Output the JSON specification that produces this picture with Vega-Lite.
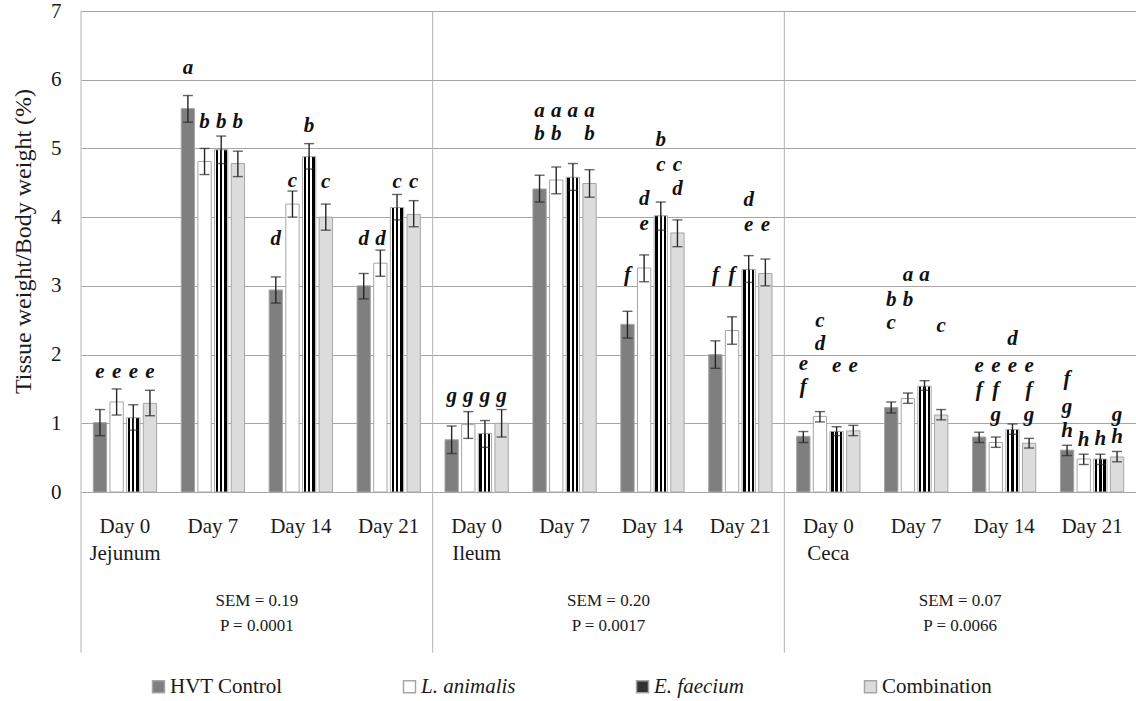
{
  "$schema": "https://vega.github.io/schema/vega-lite/v6.json",
  "width": 1055,
  "height": 481,
  "autosize": {"type": "none"},
  "padding": {"left": 81, "top": 11, "right": 0, "bottom": 209},
  "background": "white",
  "config": {
    "view": {"stroke": null},
    "font": "Liberation Serif, Times New Roman, serif",
    "axis": {"labelFont": "Liberation Serif, Times New Roman, serif", "titleFont": "Liberation Serif, Times New Roman, serif"},
    "legend": {"labelFont": "Liberation Serif, Times New Roman, serif", "padding": 0},
    "text": {"font": "Liberation Serif, Times New Roman, serif"}
  },
  "datasets": {
    "bars": [
      {"g": "Jejunum|Day 0", "trt": "HVT Control", "mean": 1.01, "lo": 0.82, "hi": 1.20},
      {"g": "Jejunum|Day 0", "trt": "L. animalis", "mean": 1.31, "lo": 1.12, "hi": 1.50},
      {"g": "Jejunum|Day 0", "trt": "E. faecium", "mean": 1.08, "lo": 0.90, "hi": 1.27},
      {"g": "Jejunum|Day 0", "trt": "Combination", "mean": 1.29, "lo": 1.11, "hi": 1.48},
      {"g": "Jejunum|Day 7", "trt": "HVT Control", "mean": 5.58, "lo": 5.38, "hi": 5.77},
      {"g": "Jejunum|Day 7", "trt": "L. animalis", "mean": 4.81, "lo": 4.62, "hi": 5.00},
      {"g": "Jejunum|Day 7", "trt": "E. faecium", "mean": 4.98, "lo": 4.78, "hi": 5.18},
      {"g": "Jejunum|Day 7", "trt": "Combination", "mean": 4.78, "lo": 4.59, "hi": 4.96},
      {"g": "Jejunum|Day 14", "trt": "HVT Control", "mean": 2.94, "lo": 2.75, "hi": 3.13},
      {"g": "Jejunum|Day 14", "trt": "L. animalis", "mean": 4.19, "lo": 4.00, "hi": 4.38},
      {"g": "Jejunum|Day 14", "trt": "E. faecium", "mean": 4.88, "lo": 4.70, "hi": 5.07},
      {"g": "Jejunum|Day 14", "trt": "Combination", "mean": 4.00, "lo": 3.81, "hi": 4.19},
      {"g": "Jejunum|Day 21", "trt": "HVT Control", "mean": 3.00, "lo": 2.81, "hi": 3.18},
      {"g": "Jejunum|Day 21", "trt": "L. animalis", "mean": 3.33, "lo": 3.14, "hi": 3.52},
      {"g": "Jejunum|Day 21", "trt": "E. faecium", "mean": 4.14, "lo": 3.96, "hi": 4.33},
      {"g": "Jejunum|Day 21", "trt": "Combination", "mean": 4.04, "lo": 3.86, "hi": 4.24},
      {"g": "Ileum|Day 0", "trt": "HVT Control", "mean": 0.76, "lo": 0.56, "hi": 0.96},
      {"g": "Ileum|Day 0", "trt": "L. animalis", "mean": 0.98, "lo": 0.78, "hi": 1.17},
      {"g": "Ileum|Day 0", "trt": "E. faecium", "mean": 0.85, "lo": 0.65, "hi": 1.04},
      {"g": "Ileum|Day 0", "trt": "Combination", "mean": 1.00, "lo": 0.80, "hi": 1.20},
      {"g": "Ileum|Day 7", "trt": "HVT Control", "mean": 4.41, "lo": 4.22, "hi": 4.61},
      {"g": "Ileum|Day 7", "trt": "L. animalis", "mean": 4.54, "lo": 4.34, "hi": 4.73},
      {"g": "Ileum|Day 7", "trt": "E. faecium", "mean": 4.58, "lo": 4.39, "hi": 4.78},
      {"g": "Ileum|Day 7", "trt": "Combination", "mean": 4.49, "lo": 4.29, "hi": 4.69},
      {"g": "Ileum|Day 14", "trt": "HVT Control", "mean": 2.44, "lo": 2.24, "hi": 2.63},
      {"g": "Ileum|Day 14", "trt": "L. animalis", "mean": 3.26, "lo": 3.06, "hi": 3.45},
      {"g": "Ileum|Day 14", "trt": "E. faecium", "mean": 4.02, "lo": 3.81, "hi": 4.22},
      {"g": "Ileum|Day 14", "trt": "Combination", "mean": 3.77, "lo": 3.57, "hi": 3.96},
      {"g": "Ileum|Day 21", "trt": "HVT Control", "mean": 2.00, "lo": 1.80, "hi": 2.20},
      {"g": "Ileum|Day 21", "trt": "L. animalis", "mean": 2.35, "lo": 2.15, "hi": 2.55},
      {"g": "Ileum|Day 21", "trt": "E. faecium", "mean": 3.24, "lo": 3.05, "hi": 3.44},
      {"g": "Ileum|Day 21", "trt": "Combination", "mean": 3.18, "lo": 3.00, "hi": 3.39},
      {"g": "Ceca|Day 0", "trt": "HVT Control", "mean": 0.81, "lo": 0.72, "hi": 0.88},
      {"g": "Ceca|Day 0", "trt": "L. animalis", "mean": 1.10, "lo": 1.02, "hi": 1.17},
      {"g": "Ceca|Day 0", "trt": "E. faecium", "mean": 0.88, "lo": 0.82, "hi": 0.95},
      {"g": "Ceca|Day 0", "trt": "Combination", "mean": 0.89, "lo": 0.82, "hi": 0.97},
      {"g": "Ceca|Day 7", "trt": "HVT Control", "mean": 1.23, "lo": 1.15, "hi": 1.31},
      {"g": "Ceca|Day 7", "trt": "L. animalis", "mean": 1.36, "lo": 1.29, "hi": 1.44},
      {"g": "Ceca|Day 7", "trt": "E. faecium", "mean": 1.54, "lo": 1.48, "hi": 1.62},
      {"g": "Ceca|Day 7", "trt": "Combination", "mean": 1.12, "lo": 1.05, "hi": 1.20},
      {"g": "Ceca|Day 14", "trt": "HVT Control", "mean": 0.80, "lo": 0.72, "hi": 0.87},
      {"g": "Ceca|Day 14", "trt": "L. animalis", "mean": 0.72, "lo": 0.65, "hi": 0.80},
      {"g": "Ceca|Day 14", "trt": "E. faecium", "mean": 0.91, "lo": 0.84, "hi": 0.99},
      {"g": "Ceca|Day 14", "trt": "Combination", "mean": 0.71, "lo": 0.64, "hi": 0.78},
      {"g": "Ceca|Day 21", "trt": "HVT Control", "mean": 0.61, "lo": 0.53, "hi": 0.68},
      {"g": "Ceca|Day 21", "trt": "L. animalis", "mean": 0.48, "lo": 0.40, "hi": 0.55},
      {"g": "Ceca|Day 21", "trt": "E. faecium", "mean": 0.48, "lo": 0.40, "hi": 0.55},
      {"g": "Ceca|Day 21", "trt": "Combination", "mean": 0.51, "lo": 0.44, "hi": 0.59}
    ],
    "letters": [
      {"g": "Jejunum|Day 0", "trt": "HVT Control", "letter": "e", "at": 1.75},
      {"g": "Jejunum|Day 0", "trt": "L. animalis", "letter": "e", "at": 1.75},
      {"g": "Jejunum|Day 0", "trt": "E. faecium", "letter": "e", "at": 1.75},
      {"g": "Jejunum|Day 0", "trt": "Combination", "letter": "e", "at": 1.75},
      {"g": "Jejunum|Day 7", "trt": "HVT Control", "letter": "a", "at": 6.17},
      {"g": "Jejunum|Day 7", "trt": "L. animalis", "letter": "b", "at": 5.39},
      {"g": "Jejunum|Day 7", "trt": "E. faecium", "letter": "b", "at": 5.39},
      {"g": "Jejunum|Day 7", "trt": "Combination", "letter": "b", "at": 5.39},
      {"g": "Jejunum|Day 14", "trt": "HVT Control", "letter": "d", "at": 3.68},
      {"g": "Jejunum|Day 14", "trt": "L. animalis", "letter": "c", "at": 4.52},
      {"g": "Jejunum|Day 14", "trt": "E. faecium", "letter": "b", "at": 5.33},
      {"g": "Jejunum|Day 14", "trt": "Combination", "letter": "c", "at": 4.51},
      {"g": "Jejunum|Day 21", "trt": "HVT Control", "letter": "d", "at": 3.68},
      {"g": "Jejunum|Day 21", "trt": "L. animalis", "letter": "d", "at": 3.68},
      {"g": "Jejunum|Day 21", "trt": "E. faecium", "letter": "c", "at": 4.51},
      {"g": "Jejunum|Day 21", "trt": "Combination", "letter": "c", "at": 4.51},
      {"g": "Ileum|Day 0", "trt": "HVT Control", "letter": "g", "at": 1.39},
      {"g": "Ileum|Day 0", "trt": "L. animalis", "letter": "g", "at": 1.39},
      {"g": "Ileum|Day 0", "trt": "E. faecium", "letter": "g", "at": 1.39},
      {"g": "Ileum|Day 0", "trt": "Combination", "letter": "g", "at": 1.39},
      {"g": "Ileum|Day 7", "trt": "HVT Control", "letter": "a", "at": 5.54},
      {"g": "Ileum|Day 7", "trt": "HVT Control", "letter": "b", "at": 5.21},
      {"g": "Ileum|Day 7", "trt": "L. animalis", "letter": "a", "at": 5.54},
      {"g": "Ileum|Day 7", "trt": "L. animalis", "letter": "b", "at": 5.21},
      {"g": "Ileum|Day 7", "trt": "E. faecium", "letter": "a", "at": 5.54},
      {"g": "Ileum|Day 7", "trt": "Combination", "letter": "a", "at": 5.54},
      {"g": "Ileum|Day 7", "trt": "Combination", "letter": "b", "at": 5.21},
      {"g": "Ileum|Day 14", "trt": "HVT Control", "letter": "f", "at": 3.16},
      {"g": "Ileum|Day 14", "trt": "L. animalis", "letter": "d", "at": 4.26},
      {"g": "Ileum|Day 14", "trt": "L. animalis", "letter": "e", "at": 3.90},
      {"g": "Ileum|Day 14", "trt": "E. faecium", "letter": "b", "at": 5.12},
      {"g": "Ileum|Day 14", "trt": "E. faecium", "letter": "c", "at": 4.76},
      {"g": "Ileum|Day 14", "trt": "Combination", "letter": "c", "at": 4.76},
      {"g": "Ileum|Day 14", "trt": "Combination", "letter": "d", "at": 4.41},
      {"g": "Ileum|Day 21", "trt": "HVT Control", "letter": "f", "at": 3.16},
      {"g": "Ileum|Day 21", "trt": "L. animalis", "letter": "f", "at": 3.16},
      {"g": "Ileum|Day 21", "trt": "E. faecium", "letter": "d", "at": 4.25},
      {"g": "Ileum|Day 21", "trt": "E. faecium", "letter": "e", "at": 3.88},
      {"g": "Ileum|Day 21", "trt": "Combination", "letter": "e", "at": 3.88},
      {"g": "Ceca|Day 0", "trt": "HVT Control", "letter": "e", "at": 1.86},
      {"g": "Ceca|Day 0", "trt": "HVT Control", "letter": "f", "at": 1.53},
      {"g": "Ceca|Day 0", "trt": "L. animalis", "letter": "c", "at": 2.49},
      {"g": "Ceca|Day 0", "trt": "L. animalis", "letter": "d", "at": 2.15},
      {"g": "Ceca|Day 0", "trt": "E. faecium", "letter": "e", "at": 1.84},
      {"g": "Ceca|Day 0", "trt": "Combination", "letter": "e", "at": 1.84},
      {"g": "Ceca|Day 7", "trt": "HVT Control", "letter": "b", "at": 2.80},
      {"g": "Ceca|Day 7", "trt": "HVT Control", "letter": "c", "at": 2.46},
      {"g": "Ceca|Day 7", "trt": "L. animalis", "letter": "a", "at": 3.16},
      {"g": "Ceca|Day 7", "trt": "L. animalis", "letter": "b", "at": 2.80},
      {"g": "Ceca|Day 7", "trt": "E. faecium", "letter": "a", "at": 3.16},
      {"g": "Ceca|Day 7", "trt": "Combination", "letter": "c", "at": 2.42},
      {"g": "Ceca|Day 14", "trt": "HVT Control", "letter": "e", "at": 1.84},
      {"g": "Ceca|Day 14", "trt": "HVT Control", "letter": "f", "at": 1.48},
      {"g": "Ceca|Day 14", "trt": "L. animalis", "letter": "e", "at": 1.84},
      {"g": "Ceca|Day 14", "trt": "L. animalis", "letter": "f", "at": 1.48},
      {"g": "Ceca|Day 14", "trt": "L. animalis", "letter": "g", "at": 1.12},
      {"g": "Ceca|Day 14", "trt": "E. faecium", "letter": "d", "at": 2.22},
      {"g": "Ceca|Day 14", "trt": "E. faecium", "letter": "e", "at": 1.84},
      {"g": "Ceca|Day 14", "trt": "Combination", "letter": "e", "at": 1.84},
      {"g": "Ceca|Day 14", "trt": "Combination", "letter": "f", "at": 1.48},
      {"g": "Ceca|Day 14", "trt": "Combination", "letter": "g", "at": 1.12},
      {"g": "Ceca|Day 21", "trt": "HVT Control", "letter": "f", "at": 1.65},
      {"g": "Ceca|Day 21", "trt": "HVT Control", "letter": "g", "at": 1.24},
      {"g": "Ceca|Day 21", "trt": "HVT Control", "letter": "h", "at": 0.89},
      {"g": "Ceca|Day 21", "trt": "L. animalis", "letter": "h", "at": 0.75},
      {"g": "Ceca|Day 21", "trt": "E. faecium", "letter": "h", "at": 0.77},
      {"g": "Ceca|Day 21", "trt": "Combination", "letter": "g", "at": 1.12},
      {"g": "Ceca|Day 21", "trt": "Combination", "letter": "h", "at": 0.80}
    ],
    "tissues": [
      {"tissue": "Jejunum", "first": "Jejunum|Day 0", "mid": "Jejunum|Day 14", "stats": "SEM = 0.19\nP = 0.0001"},
      {"tissue": "Ileum", "first": "Ileum|Day 0", "mid": "Ileum|Day 14", "stats": "SEM = 0.20\nP = 0.0017"},
      {"tissue": "Ceca", "first": "Ceca|Day 0", "mid": "Ceca|Day 14", "stats": "SEM = 0.07\nP = 0.0066"}
    ]
  },
  "layer": [
    {
      "data": {"name": "bars"},
      "mark": {"type": "bar", "stroke": "#a6a6a6", "strokeWidth": 1},
      "encoding": {
        "x": {
          "field": "g", "type": "nominal", "title": null,
          "scale": {
            "domain": ["Jejunum|Day 0", "Jejunum|Day 7", "Jejunum|Day 14", "Jejunum|Day 21", "Ileum|Day 0", "Ileum|Day 7", "Ileum|Day 14", "Ileum|Day 21", "Ceca|Day 0", "Ceca|Day 7", "Ceca|Day 14", "Ceca|Day 21"],
            "paddingInner": 0.28, "paddingOuter": 0.14
          },
          "axis": {
            "bandPosition": 0.5,
            "domain": true, "domainColor": "#a6a6a6", "ticks": false, "labelAngle": 0,
            "labelFont": "Liberation Serif, Times New Roman, serif",
            "labelFontSize": 21, "labelColor": "#1a1a1a", "labelPadding": 23, "labelLineHeight": 27,
            "labelExpr": "indexof(datum.value, 'Day 0') >= 0 ? [split(datum.value, '|')[1], split(datum.value, '|')[0]] : split(datum.value, '|')[1]"
          }
        },
        "xOffset": {
          "field": "trt", "type": "nominal",
          "scale": {"domain": ["HVT Control", "L. animalis", "E. faecium", "Combination"], "paddingInner": 0.2, "paddingOuter": 0}
        },
        "y": {
          "field": "mean", "type": "quantitative",
          "title": "Tissue weight/Body weight (%)",
          "scale": {"domain": [0, 7], "nice": false},
          "axis": {
            "values": [0, 1, 2, 3, 4, 5, 6, 7], "format": "d", "grid": true, "gridColor": "#a6a6a6", "gridWidth": 1,
            "domain": false, "ticks": false,
            "labelFont": "Liberation Serif, Times New Roman, serif",
            "labelFontSize": 21, "labelColor": "#1a1a1a", "labelPadding": 20,
            "titleFont": "Liberation Serif, Times New Roman, serif",
            "titleFontSize": 24, "titleFontWeight": "normal", "titleColor": "#1a1a1a",
            "titleX": -58, "titleY": 230, "titleBaseline": "middle", "titleAngle": -90
          }
        },
        "fill": {
          "condition": {
            "test": "datum.trt === 'E. faecium'",
            "value": {"gradient": "linear", "x1": 0, "y1": 0, "x2": 1, "y2": 0, "stops": [
              {"offset": 0, "color": "#ffffff"}, {"offset": 0.09, "color": "#ffffff"},
              {"offset": 0.09, "color": "#000000"}, {"offset": 0.27, "color": "#000000"},
              {"offset": 0.27, "color": "#ffffff"}, {"offset": 0.41, "color": "#ffffff"},
              {"offset": 0.41, "color": "#000000"}, {"offset": 0.59, "color": "#000000"},
              {"offset": 0.59, "color": "#ffffff"}, {"offset": 0.73, "color": "#ffffff"},
              {"offset": 0.73, "color": "#000000"}, {"offset": 0.91, "color": "#000000"},
              {"offset": 0.91, "color": "#ffffff"}, {"offset": 1, "color": "#ffffff"}
            ]}
          },
          "field": "trt", "type": "nominal",
          "scale": {
            "domain": ["HVT Control", "L. animalis", "E. faecium", "Combination"],
            "range": ["#7f7f7f", "#ffffff", "#333333", "#dcdcdc"]
          },
          "legend": {
            "title": null, "orient": "none", "legendX": 67, "legendY": 665,
            "direction": "horizontal", "columns": 4, "columnPadding": 116,
            "symbolType": "square", "symbolSize": 144,
            "labelFont": "Liberation Serif, Times New Roman, serif",
            "labelFontSize": 21, "labelColor": "#1a1a1a", "labelOffset": 1, "labelLimit": 300,
            "labelFontStyle": {"expr": "datum.label == 'L. animalis' || datum.label == 'E. faecium' ? 'italic' : 'normal'"},
            "encode": {
              "symbols": {"update": {
                "stroke": {"signal": "datum.value === 'E. faecium' ? '#333333' : '#a6a6a6'"},
                "strokeWidth": {"value": 1}
              }}
            }
          }
        }
      }
    },
    {
      "data": {"name": "tissues"},
      "mark": {"type": "rule", "color": "#b3b3b3", "strokeWidth": 1},
      "encoding": {
        "x": {"field": "first", "type": "nominal", "bandPosition": -0.1944},
        "y": {"datum": 7},
        "y2": {"datum": -2.34}
      }
    },
    {
      "data": {"name": "bars"},
      "mark": {"type": "rule", "color": "#262626", "strokeWidth": 1.4},
      "encoding": {
        "x": {"field": "g", "type": "nominal"},
        "xOffset": {"field": "trt", "type": "nominal"},
        "y": {"field": "lo", "type": "quantitative"},
        "y2": {"field": "hi"}
      }
    },
    {
      "data": {"name": "bars"},
      "mark": {"type": "tick", "color": "#262626", "thickness": 1.4, "size": 10},
      "encoding": {
        "x": {"field": "g", "type": "nominal"},
        "xOffset": {"field": "trt", "type": "nominal"},
        "y": {"field": "lo", "type": "quantitative"}
      }
    },
    {
      "data": {"name": "bars"},
      "mark": {"type": "tick", "color": "#262626", "thickness": 1.4, "size": 10},
      "encoding": {
        "x": {"field": "g", "type": "nominal"},
        "xOffset": {"field": "trt", "type": "nominal"},
        "y": {"field": "hi", "type": "quantitative"}
      }
    },
    {
      "data": {"name": "letters"},
      "mark": {"type": "text", "font": "Liberation Serif, Times New Roman, serif", "fontSize": 21, "fontWeight": "bold", "fontStyle": "italic", "baseline": "middle", "align": "center", "color": "#111111"},
      "encoding": {
        "x": {"field": "g", "type": "nominal"},
        "xOffset": {"field": "trt", "type": "nominal"},
        "y": {"field": "at", "type": "quantitative"},
        "text": {"field": "letter"}
      }
    },
    {
      "data": {"name": "tissues"},
      "mark": {"type": "text", "font": "Liberation Serif, Times New Roman, serif", "fontSize": 17, "lineBreak": "\n", "lineHeight": 25, "baseline": "middle", "align": "center", "color": "#1a1a1a"},
      "encoding": {
        "x": {"field": "mid", "type": "nominal", "bandPosition": -0.1944},
        "y": {"datum": -1.59},
        "text": {"field": "stats"}
      }
    }
  ]
}
